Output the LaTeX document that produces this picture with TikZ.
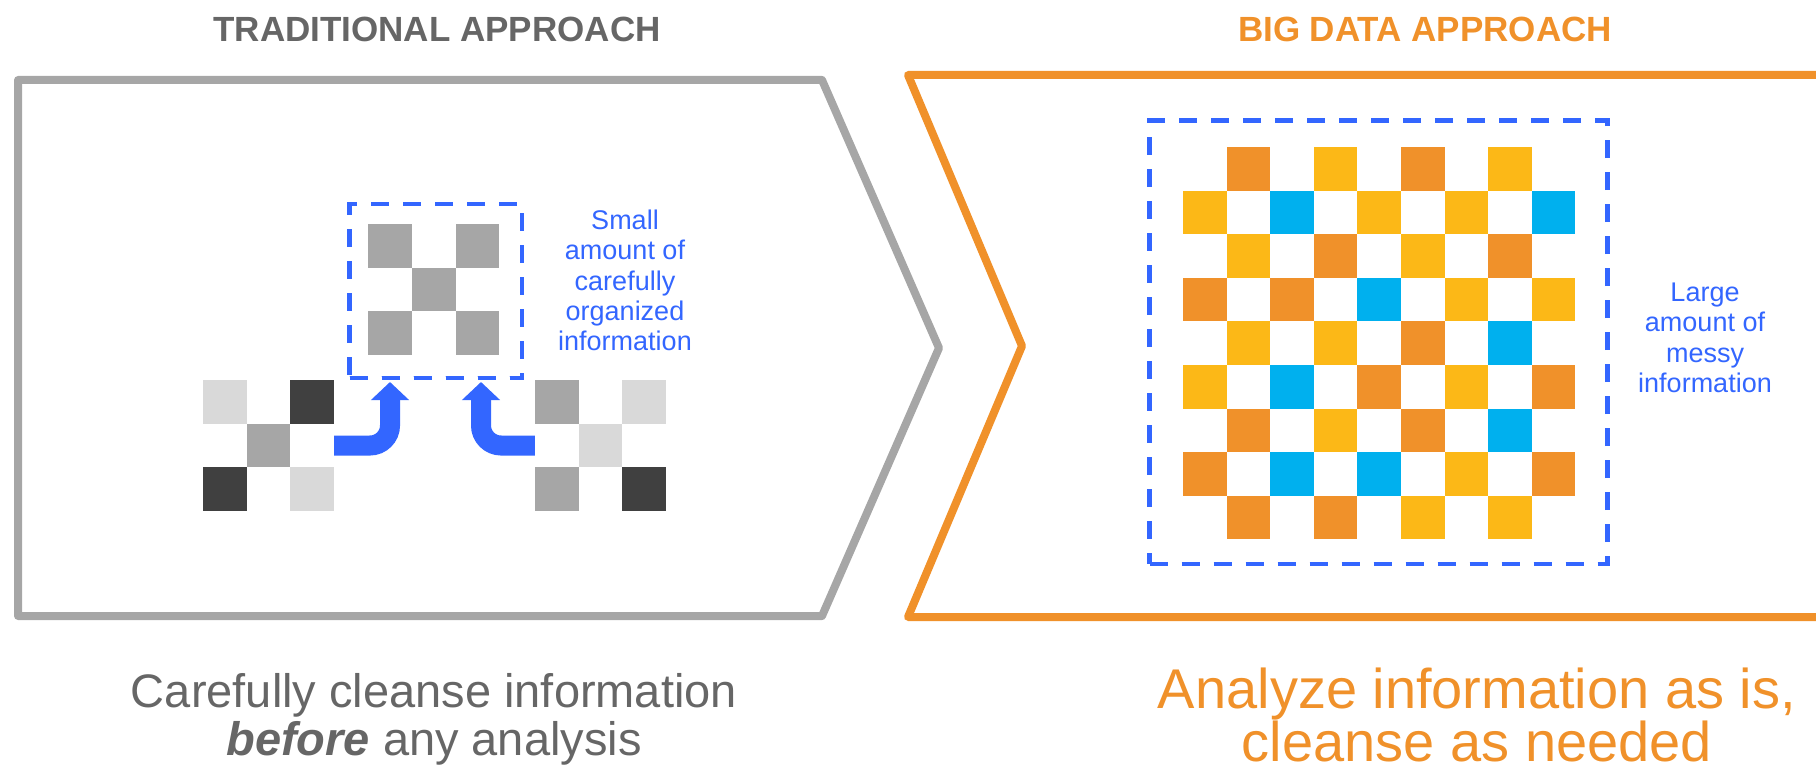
\documentclass[tikz,border=0pt]{standalone}
\usepackage{fontspec}
\setmainfont{Liberation Sans}
\usetikzlibrary{arrows.meta}

\definecolor{textgray}{HTML}{666666}
\definecolor{framegray}{HTML}{A6A6A6}
\definecolor{lightcell}{HTML}{D9D9D9}
\definecolor{midcell}{HTML}{A6A6A6}
\definecolor{darkcell}{HTML}{404040}
\definecolor{bdorange}{HTML}{F0912A}
\definecolor{bdyellow}{HTML}{FCB817}
\definecolor{bdblue}{HTML}{00B0EE}
\definecolor{markblue}{HTML}{3366FF}

\tikzset{
  frame/.style={line width=8pt, line join=round},
  gridbox/.style={minimum width=131pt, minimum height=131pt, inner sep=0pt},
  dashbox/.style={draw=markblue, line width=4.3pt, dash pattern=on 18pt off 14pt, inner sep=0pt},
  flowarrow/.style={draw=markblue, line width=20pt, rounded corners=20pt, -{Triangle[width=37pt,length=18pt,fill=markblue]}},
  heading/.style={anchor=base, font=\fontsize{35}{40}\selectfont\bfseries},
  note/.style={text=markblue, align=center, inner sep=0pt, anchor=north, font=\fontsize{27}{30.2}\selectfont},
  caption/.style={align=center, inner sep=0pt, anchor=north},
}
\newcommand{\putcell}[4]{\fill[#4] ([shift={(#2*43.7,#3*43.7)}]#1) rectangle ++(43.7,43.7);}

\begin{document}
\begin{tikzpicture}[x=1pt,y=-1pt]
\clip (0,0) rectangle (1816,776);
% chevron corners
\coordinate (G1) at (18,80);
\coordinate (G2) at (822,80);
\coordinate (G3) at (939,348);
\coordinate (G4) at (822,616);
\coordinate (G5) at (18,616);
\coordinate (O1) at (1830,75);
\coordinate (O2) at (908,75);
\coordinate (O3) at (1022,346);
\coordinate (O4) at (908,617);
\coordinate (O5) at (1830,617);
\draw[frame, framegray] (G1) -- (G2) -- (G3) -- (G4) -- (G5) -- cycle;
\draw[frame, bdorange] (O1) -- (O2) -- (O3) -- (O4) -- (O5);

\node[heading, text=textgray] (tradtitle) at (437,42) {TRADITIONAL APPROACH};
\node[heading, text=bdorange] (bigtitle) at (1425,42) {BIG DATA APPROACH};

% traditional side
\node[gridbox] (lgrid) at (268.5,445.5) {};
\node[gridbox] (mgrid) at (434,289.5) {};
\node[gridbox] (rgrid) at (600.5,445.5) {};
\putcell{lgrid.north west}{0}{0}{lightcell}
\putcell{lgrid.north west}{2}{0}{darkcell}
\putcell{lgrid.north west}{1}{1}{midcell}
\putcell{lgrid.north west}{0}{2}{darkcell}
\putcell{lgrid.north west}{2}{2}{lightcell}
\foreach \c/\r in {0/0,2/0,1/1,0/2,2/2}
  \putcell{mgrid.north west}{\c}{\r}{midcell}
\putcell{rgrid.north west}{0}{0}{midcell}
\putcell{rgrid.north west}{2}{0}{lightcell}
\putcell{rgrid.north west}{1}{1}{lightcell}
\putcell{rgrid.north west}{0}{2}{midcell}
\putcell{rgrid.north west}{2}{2}{darkcell}
\node[dashbox, minimum width=172.5pt, minimum height=174pt] (smallbox) at (435.75,291) {};
\coordinate (ltip) at (390,382);
\coordinate (rtip) at (481,382);
\draw[flowarrow] (lgrid.east) -| (ltip);
\draw[flowarrow] (rgrid.west) -| (rtip);
\node[note] (smallnote) at (625,210) {Small\\amount of\\carefully\\organized\\information};
\node[caption, text=textgray, font=\fontsize{47}{48}\selectfont] (tradtext) at (434,673)
  {Carefully cleanse information\\\textbf{\textit{before}} any analysis};

% big data side
\coordinate (bgrid) at (1183,147);
\foreach \k/\cells in {bdorange/{1/0,5/0,3/2,7/2,0/3,2/3,5/4,4/5,8/5,1/6,5/6,0/7,8/7,1/8,3/8},
    bdyellow/{3/0,7/0,0/1,4/1,6/1,1/2,5/2,6/3,8/3,1/4,3/4,0/5,6/5,3/6,6/7,5/8,7/8},
    bdblue/{2/1,8/1,4/3,7/4,2/5,7/6,2/7,4/7}}
  \foreach \c/\r in \cells
    \fill[\k] ([shift={(\c*43.6,\r*43.6)}]bgrid) rectangle ++(43.6,43.6);
\node[dashbox, minimum width=458pt, minimum height=443.5pt] (bigbox) at (1378.5,342.25) {};
\node[note] (bignote) at (1705,283) {Large\\amount of\\messy\\information};
\node[caption, text=bdorange, font=\fontsize{56}{48}\selectfont] (bigtext) at (1477,668)
  {Analyze information as is,\\cleanse as needed};
\end{tikzpicture}
\end{document}
